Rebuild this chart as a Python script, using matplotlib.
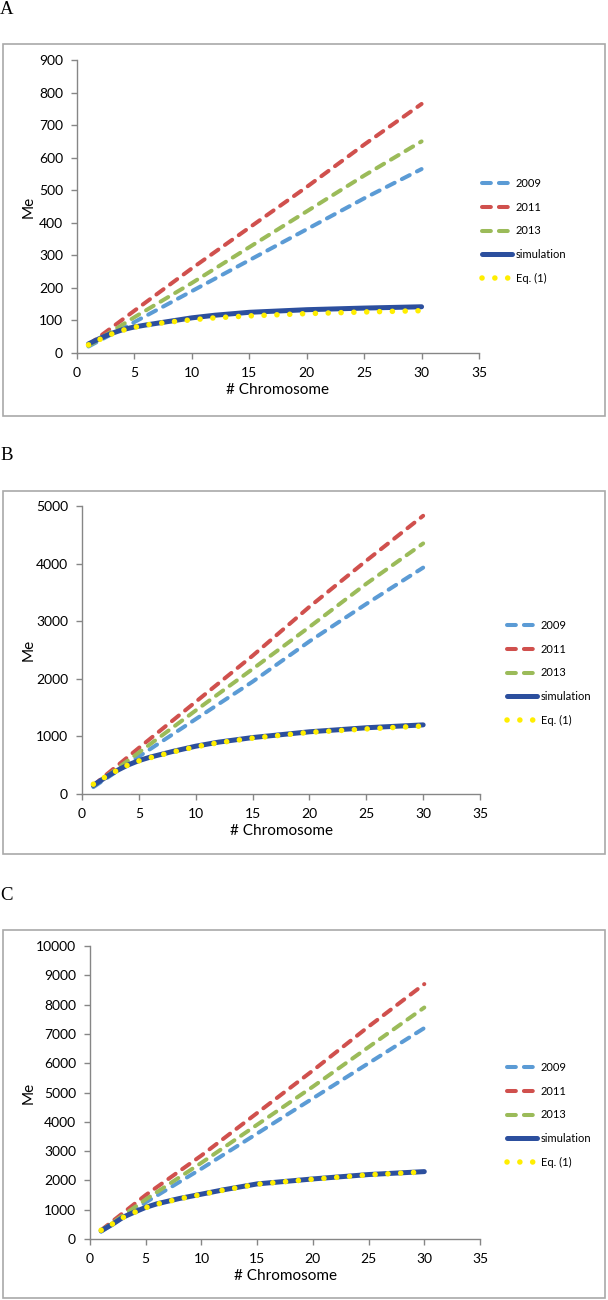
import matplotlib
matplotlib.use('Agg')
import matplotlib.pyplot as plt
from matplotlib.patches import Rectangle

plt.rcParams['font.family'] = ['Lato', 'DejaVu Sans']

# Data
x_lin = [1, 5, 10, 15, 20, 25, 30]
x_sim = [1, 2, 3, 4, 5, 6, 8, 10, 12, 15, 20, 25, 30]

# Panel A
a_2009 = [20, 95, 190, 285, 380, 475, 565]
a_2011 = [25, 130, 260, 385, 510, 640, 765]
a_2013 = [22, 110, 215, 325, 435, 545, 650]
a_sim = [28, 45, 60, 72, 80, 86, 97, 108, 116, 125, 133, 138, 142]
a_eq = [25, 42, 58, 70, 79, 86, 95, 102, 108, 114, 121, 126, 130]

# Panel B
b_2009 = [120, 650, 1300, 1950, 2650, 3300, 3930]
b_2011 = [150, 800, 1600, 2400, 3250, 4050, 4830]
b_2013 = [140, 720, 1450, 2170, 2900, 3650, 4350]
b_sim = [150, 280, 400, 500, 580, 640, 740, 830, 900, 980, 1080, 1150, 1200]
b_eq = [170, 290, 400, 500, 575, 630, 730, 820, 890, 970, 1070, 1130, 1180]

# Panel C
c_2009 = [250, 1250, 2400, 3600, 4800, 6000, 7200]
c_2011 = [300, 1500, 2850, 4300, 5750, 7250, 8700]
c_2013 = [280, 1350, 2600, 3900, 5200, 6550, 7900]
c_sim = [280, 500, 750, 920, 1080, 1200, 1380, 1530, 1680, 1880, 2050, 2200, 2300]
c_eq = [300, 510, 740, 910, 1070, 1190, 1370, 1520, 1670, 1870, 2040, 2190, 2290]

W, H = 608, 1300


def fbox(x0, y0, x1, y1):
    # pixel box (top-left origin) -> figure fraction [l, b, w, h]
    return [x0 / W, 1 - y1 / H, (x1 - x0) / W, (y1 - y0) / H]


fig = plt.figure(figsize=(W / 100, H / 100), dpi=100)

panels = [
    # label, label y, frame (y0, y1), axes box, ymax, ystep, legend (x, y), data
    ('A', 9, (44, 416), (77, 60, 479, 353), 900, 100, (482, 231),
     (a_2009, a_2011, a_2013, a_sim, a_eq)),
    ('B', 455, (491, 854), (82, 506, 480, 794), 5000, 1000, (507, 673),
     (b_2009, b_2011, b_2013, b_sim, b_eq)),
    ('C', 895, (930, 1298), (90, 946, 480, 1239), 10000, 1000, (507, 1115),
     (c_2009, c_2011, c_2013, c_sim, c_eq)),
]

gray = '#868686'

for label, ly, (fy0, fy1), (ax0, ay0, ax1, ay1), ymax, ystep, (lgx, lgy), data in panels:
    fig.text(0.0, 1 - ly / H, label, family='Liberation Serif', fontsize=13.5,
             va='center', ha='left')
    l, b, w, h = fbox(3, fy0, 605, fy1)
    fig.patches.append(Rectangle((l, b), w, h, transform=fig.transFigure,
                                 fill=False, edgecolor='#a9a9a9', linewidth=1.2))

    ax = fig.add_axes(fbox(ax0, ay0, ax1, ay1))
    y09, y11, y13, ysim, yeq = data
    dash = (0, (2.2, 2.0))
    ax.plot(x_lin, y09, color='#5b9bd5', lw=2.9, linestyle=dash,
            dash_capstyle='round', label='2009')
    ax.plot(x_lin, y11, color='#d0504d', lw=2.9, linestyle=dash,
            dash_capstyle='round', label='2011')
    ax.plot(x_lin, y13, color='#9bbb59', lw=2.9, linestyle=dash,
            dash_capstyle='round', label='2013')
    ax.plot(x_sim, ysim, color='#2c4f9e', lw=3.6, solid_capstyle='round',
            label='simulation')
    ax.plot(x_sim, yeq, color='#ffee00', lw=4.0, linestyle=(0, (0.01, 2.3)),
            dash_capstyle='round', label='Eq. (1)')

    ax.set_xlim(0, 35)
    ax.set_ylim(0, ymax)
    ax.set_xticks(range(0, 36, 5))
    ax.set_yticks(range(0, ymax + 1, ystep))
    for s in ('top', 'right'):
        ax.spines[s].set_visible(False)
    for s in ('left', 'bottom'):
        ax.spines[s].set_color(gray)
        ax.spines[s].set_linewidth(1.0)
    ax.tick_params(direction='out', length=4, color=gray, labelsize=10,
                   width=1.0, pad=6)
    ax.set_xlabel('# Chromosome', fontsize=11, labelpad=3)
    ax.set_ylabel('Me', fontsize=11)
    ax.yaxis.set_label_coords((36 - ax0) / (ax1 - ax0), 0.5)

    ax.legend(loc='center left',
              bbox_to_anchor=((lgx - 4 - ax0) / (ax1 - ax0), (ay1 - lgy) / (ay1 - ay0)),
              frameon=False, fontsize=8, handlelength=2.7,
              handletextpad=0.3, labelspacing=1.15, borderaxespad=0)

fig.savefig('out.png', dpi=100)
